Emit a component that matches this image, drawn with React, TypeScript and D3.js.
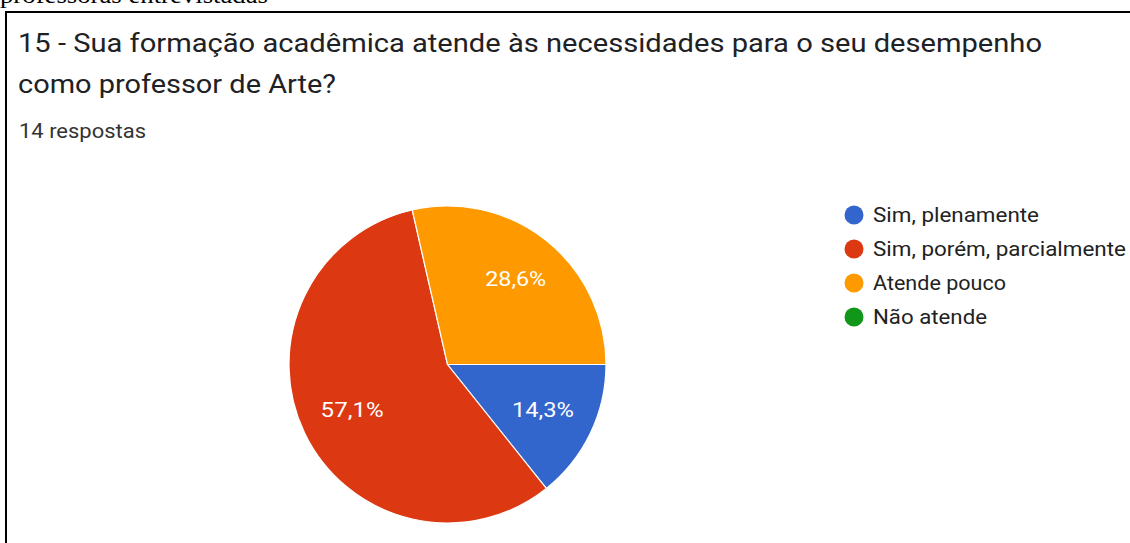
import React from "react";
import * as d3 from "d3";

const categories = ["Sim, plenamente", "Sim, porém, parcialmente", "Atende pouco", "Não atende"];
const counts = [2, 8, 4, 0];
const colors = ["#3366cc", "#dc3912", "#ff9900", "#109618"];
const title1 = "15 - Sua formação acadêmica atende às necessidades para o seu desempenho";
const title2 = "como professor de Arte?";
const subtitle = "14 respostas";
const caption = "professoras entrevistadas";

// rendered widths of the (horizontally stretched) reference texts
const legendWidths = [166, 253, 133, 114];
const labelWidths = [62, 63, 61, 0];

export default function App() {
  const W = 1130, H = 543;
  const cx = 447.5, cy = 364.5, r = 158.5;
  const total = d3.sum(counts);
  const pie = d3.pie<number>().sort(null).value(d => d)
    .startAngle(Math.PI / 2).endAngle(Math.PI / 2 + 2 * Math.PI);
  const arcs = pie(counts);
  const arcGen = d3.arc<d3.PieArcDatum<number>>().innerRadius(0).outerRadius(r);
  const fmt = (v: number) => (v / total * 100).toFixed(1).replace(".", ",") + "%";
  const legendY = d3.scaleLinear().domain([0, 1]).range([215, 249]);
  const labelPos = (a: d3.PieArcDatum<number>) => {
    let ang = (a.startAngle + a.endAngle) / 2;
    let rr = r * 0.69;
    if (a.endAngle - a.startAngle > Math.PI) {
      const first = arcs[0];
      ang = 2 * Math.PI - (first.startAngle + first.endAngle) / 2;
      rr = r * 0.668;
    } else if (a.index === 0) rr = r * 0.668;
    return [Math.sin(ang) * rr, -Math.cos(ang) * rr];
  };
  const font = "Roboto, sans-serif";
  return (
    <svg width={W} height={H} style={{ position: "absolute", left: 0, top: 0, background: "#fff" }}>
      <text x={0} y={2.5} fontFamily="Liberation Serif, Times New Roman, serif" fontSize={24} fill="#000"
        textLength={268} lengthAdjust="spacingAndGlyphs">{caption}</text>
      <rect x={6} y={12} width={1140} height={560} fill="#fff" stroke="#000" strokeWidth={2} />
      <text x={18} y={52} fontFamily={font} fontSize={26} fill="#202124" textLength={1024} lengthAdjust="spacingAndGlyphs">{title1}</text>
      <text x={18} y={93} fontFamily={font} fontSize={26} fill="#202124" textLength={318} lengthAdjust="spacingAndGlyphs">{title2}</text>
      <text x={19} y={138} fontFamily={font} fontSize={20} fill="#333" textLength={127} lengthAdjust="spacingAndGlyphs">{subtitle}</text>
      <g transform={`translate(${cx},${cy})`}>
        {arcs.map((a, i) => a.value > 0 && (
          <path key={i} d={arcGen(a) || ""} fill={colors[i]} stroke="#fff" strokeWidth={1.2} />
        ))}
        {arcs.map((a, i) => {
          if (a.value <= 0) return null;
          const [x, y] = labelPos(a);
          return (
            <text key={"l" + i} x={x - labelWidths[i] / 2} y={y + 7} fontFamily={font} fontSize={19.5} fill="#fff"
              textLength={labelWidths[i]} lengthAdjust="spacingAndGlyphs">{fmt(a.value)}</text>
          );
        })}
      </g>
      {categories.map((c, i) => (
        <g key={c}>
          <circle cx={854} cy={legendY(i)} r={9.5} fill={colors[i]} />
          <text x={873} y={legendY(i) + 7} fontFamily={font} fontSize={19.5} fill="#222"
            textLength={legendWidths[i]} lengthAdjust="spacingAndGlyphs">{c}</text>
        </g>
      ))}
    </svg>
  );
}
